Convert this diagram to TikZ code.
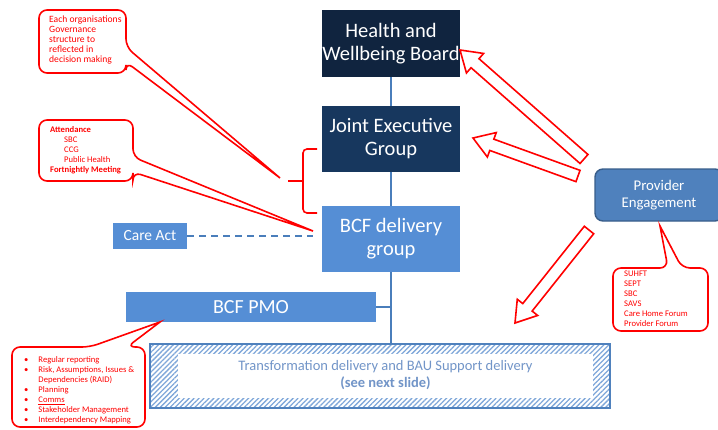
\documentclass[tikz,border=0pt]{standalone}
\usepackage{fontspec}
\setmainfont{Carlito}
\usepackage{tikz}
\usetikzlibrary{positioning,calc,patterns.meta}

\definecolor{hwbnavy}{HTML}{10243F}
\definecolor{jegnavy}{HTML}{17375E}
\definecolor{bcfblue}{HTML}{558ED5}
\definecolor{provblue}{HTML}{4F81BD}
\definecolor{provedge}{HTML}{385D8A}
\definecolor{linkblue}{HTML}{4A7EBB}
\definecolor{hatchblue}{HTML}{7FA7D9}
\definecolor{transtext}{HTML}{7295C8}

% hollow block arrow, #1 = tail, #2 = tip
\newcommand\hollowarrow[2]{%
  \coordinate (ha) at ($(#2)!20pt!(#1)$);
  \draw[redline, fill=white, line join=miter]
    ($(#1)!6pt!90:(#2)$) -- ($(ha)!6pt!90:(#2)$) -- ($(ha)!13pt!90:(#2)$)
    -- (#2) -- ($(ha)!13pt!-90:(#2)$) -- ($(ha)!6pt!-90:(#2)$)
    -- ($(#1)!6pt!-90:(#2)$) -- cycle;}

\begin{document}
\begin{tikzpicture}[
    x=1pt, y=-1pt,
    box/.style={rectangle, inner sep=0pt, outer sep=0pt, text=white, align=center},
    bigbox/.style={box, minimum width=138pt, minimum height=66pt,
      font=\fontsize{20.5}{23}\selectfont},
    smallbox/.style={box, fill=bcfblue},
    link/.style={draw=linkblue, line width=1.6pt},
    dashlink/.style={link, dash pattern=on 7pt off 5pt, shorten >=9pt},
    redline/.style={draw=red, line width=1.6pt},
    callout/.style={redline, fill=white, rounded corners=8pt},
    calltext/.style={text=red, inner sep=0pt, anchor=north west, align=left,
      font=\fontsize{8.6}{10}\selectfont},
  ]
  \path[use as bounding box, clip] (0,0) rectangle (718,429);

  % governance stack
  \node[bigbox, fill=hwbnavy, minimum height=67pt] (hwb) at (391,43.5) {Health and\\Wellbeing Board};
  \node[bigbox, fill=jegnavy, below=29pt of hwb] (jeg) {Joint Executive\\Group};
  \node[bigbox, fill=bcfblue, below=34pt of jeg] (bcf) {BCF delivery\\group};

  \node[smallbox, minimum width=74pt, minimum height=26pt,
    font=\fontsize{15.5}{17}\selectfont] (care) at (150,236) {Care Act};
  \node[smallbox, minimum width=250pt, minimum height=30pt,
    font=\fontsize{20}{22}\selectfont] (pmo) at (251,307) {BCF PMO};

  % hatched delivery box
  \node[box, minimum width=460pt, minimum height=64pt, draw=provblue, line width=1.2pt,
    pattern={Lines[angle=45,distance=3.5pt,line width=1.3pt]}, pattern color=hatchblue]
    (trans) at (380,376) {};
  \node[box, fill=white, minimum width=415pt, minimum height=44pt, text=transtext,
    font=\fontsize{14.5}{17}\selectfont] (transin) at (385.5,375.5)
    {Transformation delivery and BAU Support delivery\\\textbf{(see next slide)}};

  \node[box, fill=provblue, draw=provedge, line width=1.4pt, rounded corners=8pt,
    minimum width=128pt, minimum height=52pt, font=\fontsize{14.8}{17}\selectfont]
    (prov) at (659,195) {Provider\\Engagement};

  % connectors
  \draw[link] (hwb) -- (jeg);
  \draw[link] (jeg) -- (bcf);
  \draw[link] (bcf) -- (bcf |- trans.north);
  \draw[link] (pmo) -- (pmo -| bcf);
  \draw[dashlink] (care) -- (care -| bcf.west);

  % callout tips
  \coordinate (govtip) at (280,178);
  \coordinate (attendtip) at (313,231);
  \coordinate (provtip) at (660,226);
  \coordinate (pmotip) at (160,322);

  % brace round JEG and BCF delivery group
  \draw[redline, rounded corners=4pt] (317,149) -- (303,149) -- (303,213) -- (317,213);
  \draw[redline] (303,181) -- (288,181);

  % callouts
  \draw[callout] (80,10) -- (126,10) -- (126,47) [sharp corners]-- (govtip)
    [rounded corners=8pt]-- (126,62) -- (126,73) -- (39,73) -- (39,10) -- cycle;
  \node[calltext, font=\fontsize{9.6}{10}\selectfont] (govtxt) at (49,16)
    {Each organisations\\Governance\\structure to\\reflected in\\decision making};

  \draw[callout] (80,120) -- (133,120) -- (133,157) [sharp corners]-- (attendtip)
    [rounded corners=8pt]-- (133,172) -- (133,181) -- (39,181) -- (39,120) -- cycle;
  \node[calltext] (attendtxt) at (50,126.5)
    {\textbf{Attendance}\\\hspace*{14pt}SBC\\\hspace*{14pt}CCG\\\hspace*{14pt}Public Health\\\textbf{Fortnightly Meeting}};

  \draw[callout] (640,268) -- (668,268) [sharp corners]-- (provtip)
    [rounded corners=8pt]-- (682,268) -- (708,268) -- (708,331) -- (613,331) -- (613,268) -- cycle;
  \node[calltext] (provtxt) at (624,270.5)
    {SUHFT\\SEPT\\SBC\\SAVS\\Care Home Forum\\Provider Forum};

  \draw[callout] (50,347) -- (90,347) [sharp corners]-- (pmotip)
    [rounded corners=8pt]-- (127,347) -- (145,347) -- (145,427) -- (12,427) -- (12,347) -- cycle;
  \node[calltext] (pmotxt) at (24,355.5)
    {\begin{tabular}{@{}l@{\hspace{10pt}}l@{}}
      \textbullet & Regular reporting\\
      \textbullet & Risk, Assumptions, Issues \&\\
                  & Dependencies (RAID)\\
      \textbullet & Planning\\
      \textbullet & \underline{Comms}\\
      \textbullet & Stakeholder Management\\
      \textbullet & Interdependency Mapping
    \end{tabular}};

  % engagement arrows
  \coordinate (arrowa) at (584,159);
  \coordinate (arrowb) at (578,176);
  \coordinate (arrowc) at (589,230);
  \hollowarrow{arrowa}{hwb.east |- 0,50}
  \hollowarrow{arrowb}{473,138}
  \hollowarrow{arrowc}{515,323}
\end{tikzpicture}
\end{document}
